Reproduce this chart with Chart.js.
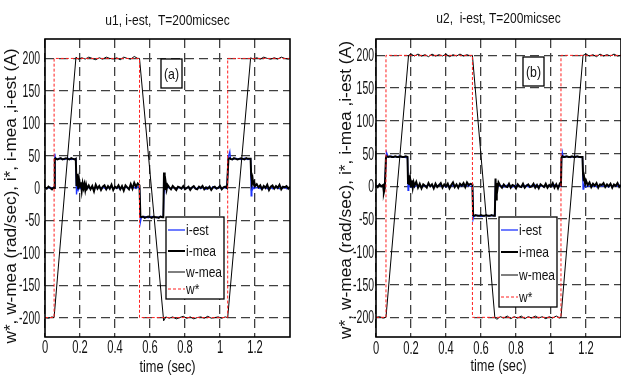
<!DOCTYPE html>
<html><head><meta charset="utf-8">
<script src="https://cdn.jsdelivr.net/npm/chart.js@4.4.1/dist/chart.umd.min.js"></script>
<style>
html,body{margin:0;padding:0;background:#fff;}
#wrap{position:relative;width:621px;height:376px;overflow:hidden;background:#fff;}
.box{position:absolute;top:0;height:376px;}
canvas{display:block;}
</style></head><body>
<div id="wrap">
<div class="box" style="left:0;width:310px"><canvas id="ca" width="310" height="376"></canvas></div>
<div class="box" style="left:310px;width:311px"><canvas id="cb" width="311" height="376"></canvas></div>
</div>
<script>
// ---------- text / tick labels ----------
const xTickLabels = [0, 0.2, 0.4, 0.6, 0.8, 1, 1.2];
const yTickLabels = [-200, -150, -100, -50, 0, 50, 100, 150, 200];
const seriesNames = ['i-est', 'i-mea', 'w-mea', 'w*'];
const titleA = 'u1, i-est,  T=200micsec';
const titleB = 'u2,  i-est, T=200micsec';
const xTitle = 'time (sec)';
const yTitle = 'w*, w-mea (rad/sec), i*, i-mea ,i-est (A)';
const tagA = '(a)';
const tagB = '(b)';

// ---------- panel (a) data ----------
const tRefA = [0, 0.052, 0.052, 0.54, 0.54, 1.044, 1.044, 1.4];
const wRefA = [-200, -200, 200, 200, -200, -200, 200, 200];

const tSpdA = [0, 0.02, 0.04, 0.052, 0.177, 0.19, 0.21, 0.23, 0.25, 0.27, 0.29, 0.31, 0.33, 0.35, 0.37, 0.39, 0.41, 0.43, 0.45, 0.47, 0.49, 0.51, 0.53, 0.54,
  0.678, 0.69, 0.71, 0.73, 0.75, 0.77, 0.79, 0.81, 0.83, 0.85, 0.87, 0.89, 0.91, 0.93, 0.95, 0.97, 0.99, 1.01, 1.03, 1.044,
  1.175, 1.19, 1.21, 1.23, 1.25, 1.27, 1.29, 1.31, 1.33, 1.35, 1.37, 1.39, 1.4];
const wSpdA = [-200, -201, -199, -200, 202, 199, 201, 199, 202, 200, 198, 201, 199, 202, 200, 199, 201, 198, 202, 200, 199, 203, 200, 200,
  -205, -199, -201, -199, -202, -200, -198, -201, -199, -202, -200, -199, -201, -198, -201, -200, -199, -201, -199, -200,
  201, 199, 201, 199, 202, 200, 199, 201, 199, 202, 200, 199, 200];

const tCurA = [0, 0.01, 0.02, 0.03, 0.04, 0.05, 0.052, 0.056,
  0.06, 0.07, 0.08, 0.09, 0.10, 0.11, 0.12, 0.13, 0.14, 0.15, 0.16, 0.17, 0.176,
  0.18, 0.185, 0.19, 0.195, 0.20, 0.205, 0.21, 0.215, 0.22, 0.225, 0.23, 0.235, 0.24,
  0.25, 0.26, 0.27, 0.28, 0.29, 0.30, 0.31, 0.32, 0.33, 0.34, 0.35, 0.36, 0.37, 0.38, 0.39, 0.40, 0.41, 0.42, 0.43, 0.44, 0.45, 0.46, 0.47, 0.48, 0.49, 0.50, 0.51, 0.52, 0.53,
  0.54, 0.545,
  0.55, 0.56, 0.57, 0.58, 0.59, 0.60, 0.61, 0.62, 0.63, 0.64, 0.65, 0.66, 0.67, 0.676,
  0.68, 0.684, 0.69, 0.695, 0.70,
  0.71, 0.72, 0.73, 0.74, 0.75, 0.76, 0.77, 0.78, 0.79, 0.80, 0.81, 0.82, 0.83, 0.84, 0.85, 0.86, 0.87, 0.88, 0.89, 0.90, 0.91, 0.92, 0.93, 0.94, 0.95, 0.96, 0.97, 0.98, 0.99, 1.00, 1.01, 1.02, 1.03, 1.04,
  1.044, 1.048, 1.056,
  1.06, 1.07, 1.08, 1.09, 1.10, 1.11, 1.12, 1.13, 1.14, 1.15, 1.16, 1.17, 1.175,
  1.178, 1.182, 1.186, 1.19, 1.195, 1.20,
  1.21, 1.22, 1.23, 1.24, 1.25, 1.26, 1.27, 1.28, 1.29, 1.30, 1.31, 1.32, 1.33, 1.34, 1.35, 1.36, 1.37, 1.38, 1.39, 1.40];
const iMeaA = [1, -1, 2, 0, -2, 1, 0, 45,
  46, 44, 45, 46, 44, 45, 46, 45, 44, 46, 45, 44, 45,
  3, 22, -2, 12, 2, 9, -4, 7, 0, 6, -3, 5, -1,
  4, -2, 3, -5, 5, -1, 3, -3, 2, 4, -2, 3, -1, 5, -3, 2, 0, 4, -2, 3, -4, 4, 1, -2, 6, -1, 8, 2, 7,
  4, -44,
  -45, -44, -46, -45, -44, -45, -46, -44, -45, -45, -46, -44, -45, -45,
  24, -3, 8, -2, 5,
  1, -2, 3, 0, -3, 2, 1, -1, 3, -2, 0, 2, -3, 1, 3, -1, -2, 2, 0, 3, -2, 1, -1, 2, -3, 1, 2, -1, 0, 3, -2, 1, 2, 0,
  0, 45, 46,
  45, 44, 46, 45, 44, 45, 46, 45, 44, 46, 45, 45, 45,
  20, 10, 15, 6, 9, 3,
  6, 1, 4, -2, 3, 0, 5, -3, 2, 4, -1, 3, 0, 5, -2, 2, 1, 3, -1, 2];
const iEstA = [0, -1, 0, 1, -1, 0, 0, 53,
  45, 44, 46, 45, 45, 44, 45, 46, 45, 44, 45, 45, 45,
  -10, 1, -3, 2, -1, 1, -2, 1, 0, 2, -1, 1, 0,
  1, -1, 2, -2, 1, 0, 2, -1, 1, 0, -2, 1, 0, 2, -1, 1, 0, 1, -2, 1, -1, 2, 0, -1, 2, 0, 1, -1, 2,
  0, -53,
  -46, -45, -44, -45, -46, -45, -44, -45, -45, -46, -45, -44, -45, -45,
  4, -1, 2, 0, 1,
  0, -1, 1, 0, -2, 1, 0, -1, 2, -1, 0, 1, -1, 0, 2, -1, 0, 1, -1, 1, 0, -2, 1, 0, -1, 2, 0, -1, 1, 0, -1, 1, 0, 0,
  0, 48, 56,
  45, 44, 45, 46, 45, 45, 44, 45, 46, 45, 44, 45, 45,
  -12, 2, -2, 1, -1, 0,
  1, 0, -1, 1, 0, 2, -1, 0, 1, -1, 0, 1, 0, -1, 1, 0, 1, -1, 0, 1];

// ---------- panel (b) data ----------
const tRefB = [0, 0.057, 0.057, 0.551, 0.551, 1.057, 1.057, 1.4];
const wRefB = [-200, -200, 200, 200, -200, -200, 200, 200];

const tSpdB = [0, 0.02, 0.04, 0.057, 0.186, 0.20, 0.22, 0.24, 0.26, 0.28, 0.30, 0.32, 0.34, 0.36, 0.38, 0.40, 0.42, 0.44, 0.46, 0.48, 0.50, 0.52, 0.54, 0.551,
  0.679, 0.69, 0.71, 0.73, 0.75, 0.77, 0.79, 0.81, 0.83, 0.85, 0.87, 0.89, 0.91, 0.93, 0.95, 0.97, 0.99, 1.01, 1.03, 1.05, 1.057,
  1.183, 1.20, 1.22, 1.24, 1.26, 1.28, 1.30, 1.32, 1.34, 1.36, 1.38, 1.4];
const wSpdB = [-200, -199, -201, -200, 200, 202, 199, 202, 199, 201, 198, 202, 199, 201, 199, 202, 198, 201, 199, 202, 199, 201, 199, 200,
  -200, -203, -199, -201, -198, -202, -199, -201, -198, -202, -199, -201, -198, -201, -199, -202, -199, -201, -198, -201, -200,
  200, 202, 199, 201, 198, 202, 199, 201, 199, 202, 199, 200];

const tCurB = [0, 0.01, 0.02, 0.03, 0.04, 0.045, 0.05, 0.057, 0.06,
  0.07, 0.08, 0.09, 0.10, 0.11, 0.12, 0.13, 0.14, 0.15, 0.16, 0.17, 0.18,
  0.183, 0.187, 0.19, 0.195, 0.20, 0.205, 0.21, 0.215, 0.22,
  0.23, 0.24, 0.25, 0.26, 0.27, 0.28, 0.29, 0.30, 0.31, 0.32, 0.33, 0.34, 0.35, 0.36, 0.37, 0.38, 0.39, 0.40, 0.41, 0.42, 0.43, 0.44, 0.45, 0.46, 0.47, 0.48, 0.49, 0.50, 0.51, 0.52, 0.53, 0.54,
  0.551, 0.555,
  0.56, 0.57, 0.58, 0.59, 0.60, 0.61, 0.62, 0.63, 0.64, 0.65, 0.66, 0.67, 0.679,
  0.683, 0.687, 0.69, 0.695, 0.70,
  0.71, 0.72, 0.73, 0.74, 0.75, 0.76, 0.77, 0.78, 0.79, 0.80, 0.81, 0.82, 0.83, 0.84, 0.85, 0.86, 0.87, 0.88, 0.89, 0.90, 0.91, 0.92, 0.93, 0.94, 0.95, 0.96, 0.97, 0.98, 0.99, 1.00, 1.01, 1.02, 1.03, 1.04, 1.05,
  1.057, 1.06, 1.065,
  1.07, 1.08, 1.09, 1.10, 1.11, 1.12, 1.13, 1.14, 1.15, 1.16, 1.17, 1.18,
  1.183, 1.187, 1.19, 1.195, 1.20,
  1.21, 1.22, 1.23, 1.24, 1.25, 1.26, 1.27, 1.28, 1.29, 1.30, 1.31, 1.32, 1.33, 1.34, 1.35, 1.36, 1.37, 1.38, 1.39, 1.40];
const iMeaB = [2, -1, 3, 0, 2, -9, -3, 44, 46,
  45, 46, 45, 45, 46, 45, 45, 46, 45, 45, 46, 45,
  5, 17, 2, 12, 0, 9, -2, 6, 1,
  7, -2, 4, -3, 3, 1, -2, 5, 0, 3, -3, 4, -1, 2, 5, -2, 3, 0, 4, -3, 2, 6, -1, 3, -2, 4, 1, 5, -1, 6, 2, 4,
  3, -44,
  -45, -44, -45, -45, -44, -45, -45, -44, -45, -45, -44, -45, -45,
  12, -20, 5, -3, 6,
  1, -2, 3, 0, -1, 4, -2, 2, 1, -3, 3, 0, -1, 4, -2, 1, 3, -1, 0, 4, -2, 2, -3, 3, 1, -1, 4, -2, 2, 0, 5, -2, 3, -3, 4,
  2, 44, 46,
  45, 45, 46, 45, 45, 46, 45, 45, 46, 45, 45, 45,
  19, 8, 13, 4, 9,
  2, 6, -1, 4, 1, 5, -2, 3, 2, 5, -1, 3, 0, 4, -2, 3, 1, 5, -1, 2];
const iEstB = [1, 0, 2, 0, 1, -3, -1, 40, 52,
  45, 45, 46, 45, 45, 45, 46, 45, 45, 45, 44, 44,
  -6, 3, 0, 2, -1, 1, 0, 1, -1,
  1, 0, 2, -1, 1, 0, 1, 2, 0, 1, -1, 1, 0, 2, 1, 0, 1, -1, 2, 0, 1, 1, 0, 2, -1, 1, 0, 2, 0, 1, 1, 0,
  0, -50,
  -45, -45, -44, -45, -46, -45, -45, -44, -45, -45, -45, -44, -45,
  3, -2, 2, 0, 1,
  0, 1, -1, 0, 2, 0, 1, -1, 0, 1, 2, 0, -1, 1, 0, 2, -1, 0, 1, 0, 2, -1, 1, 0, 1, -1, 2, 0, 1, 0, 1, 2, 0, 1, 0,
  0, 40, 52,
  45, 46, 45, 45, 44, 45, 45, 46, 45, 45, 44, 45,
  -4, 2, 0, 1, -1,
  1, 0, 2, 0, 1, -1, 1, 2, 0, 1, 0, 1, -1, 2, 0, 1, 1, 0, 2, 1];

// ---------- layout (positions/styles only) ----------
const FONT = '"Liberation Sans", Arial, Helvetica, sans-serif';
const layoutA = {pad: {left: 45, top: 39, right: 20, bottom: 39}, yMin: -230, yMax: 230,
  titleY: 21, xTickY: 348, xTitleY: 368, yTitleX: 12, yTitleY: 196, yTitleLen: 295, yTickGap: 5,
  tag: {x: 161, y: 59, w: 21, h: 29},
  legend: {x: 166, y: 217, w: 58, h: 82, rows: [230, 251, 272, 289]}};
const layoutB = {pad: {left: 66, top: 39, right: 0, bottom: 39}, yMin: -230, yMax: 225,
  titleY: 19, xTickY: 349, xTitleY: 367, yTitleX: 37, yTitleY: 190, yTitleLen: 298, yTickGap: 2,
  tag: {x: 213, y: 57, w: 21, h: 29},
  legend: {x: 189, y: 217, w: 58, h: 90, rows: [230, 252, 275, 297]}};

function sqText(ctx, text, x, y, size, sx, align, baseline) {
  ctx.save();
  ctx.font = size + 'px ' + FONT;
  ctx.fillStyle = '#111';
  ctx.textAlign = align; ctx.textBaseline = baseline;
  ctx.translate(x, y); ctx.scale(sx, 1);
  ctx.fillText(text, 0, 0);
  ctx.restore();
}

function makeDeco(L, title, tag) {
  return {
    id: 'deco',
    afterDraw(chart) {
      const ctx = chart.ctx, a = chart.chartArea;
      const xs = chart.scales.x, ys = chart.scales.y;
      // legend box
      const lg = L.legend;
      ctx.save();
      ctx.fillStyle = '#fff'; ctx.fillRect(lg.x, lg.y, lg.w, lg.h);
      ctx.strokeStyle = '#000'; ctx.lineWidth = 1.3; ctx.strokeRect(lg.x, lg.y, lg.w, lg.h);
      chart.data.datasets.forEach((ds, i) => {
        const yy = lg.rows[i];
        ctx.save();
        ctx.strokeStyle = ds.borderColor; ctx.lineWidth = ds.borderWidth;
        ctx.setLineDash(ds.borderDash || []);
        ctx.beginPath(); ctx.moveTo(lg.x + 2, yy); ctx.lineTo(lg.x + 19, yy); ctx.stroke();
        ctx.restore();
        sqText(ctx, ds.label, lg.x + 20, yy + 1, 15, 0.8, 'left', 'middle');
      });
      // tag box
      const tg = L.tag;
      ctx.fillStyle = '#fff'; ctx.fillRect(tg.x, tg.y, tg.w, tg.h);
      ctx.strokeStyle = '#000'; ctx.lineWidth = 1.3; ctx.strokeRect(tg.x, tg.y, tg.w, tg.h);
      sqText(ctx, tag, tg.x + tg.w / 2, tg.y + tg.h / 2 + 1, 15, 0.82, 'center', 'middle');
      // frame
      ctx.strokeStyle = '#000'; ctx.lineWidth = 1.6;
      ctx.strokeRect(a.left, a.top, a.right - a.left, a.bottom - a.top);
      ctx.restore();
      // tick labels from the library's scales
      ys.ticks.forEach(t => {
        sqText(ctx, String(t.value), a.left - L.yTickGap, ys.getPixelForValue(t.value) + 1, 18, 0.58, 'right', 'middle');
      });
      xs.ticks.forEach(t => {
        sqText(ctx, String(t.value), xs.getPixelForValue(t.value), L.xTickY, 18, 0.62, 'center', 'middle');
      });
      const cx = (a.left + a.right) / 2;
      sqText(ctx, title, cx, L.titleY, 15, 0.8, 'center', 'middle');
      sqText(ctx, xTitle, cx, L.xTitleY, 16, 0.8, 'center', 'middle');
      // rotated y title, fitted to its length
      ctx.save();
      ctx.font = '16px ' + FONT;
      ctx.fillStyle = '#111';
      ctx.translate(L.yTitleX, L.yTitleY);
      ctx.rotate(-Math.PI / 2);
      const w = ctx.measureText(yTitle).width;
      ctx.scale(L.yTitleLen / w, 1);
      ctx.textAlign = 'center'; ctx.textBaseline = 'middle';
      ctx.fillText(yTitle, 0, 0);
      ctx.restore();
    }
  };
}

function makeChart(id, L, tRef, wRef, tSpd, wSpd, tCur, iMea, iEst, title, tag) {
  const pts = (t, v) => t.map((x, i) => ({x: x, y: v[i]}));
  const datasets = [
    {label: seriesNames[0], data: pts(tCur, iEst), borderColor: '#1f35ff', borderWidth: 1.3, order: 4},
    {label: seriesNames[1], data: pts(tCur, iMea), borderColor: '#000000', borderWidth: 2, order: 3},
    {label: seriesNames[2], data: pts(tSpd, wSpd), borderColor: '#000000', borderWidth: 1, order: 2},
    {label: seriesNames[3], data: pts(tRef, wRef), borderColor: '#ff1f1f', borderWidth: 1, borderDash: [3, 2], order: 1}
  ];
  datasets.forEach(d => { d.pointRadius = 0; d.tension = 0; d.fill = false; });
  return new Chart(document.getElementById(id), {
    type: 'line',
    data: {datasets: datasets},
    options: {
      responsive: false, animation: false, devicePixelRatio: 1,
      layout: {padding: L.pad},
      plugins: {legend: {display: false}, tooltip: {enabled: false}, title: {display: false}},
      scales: {
        x: {type: 'linear', min: 0, max: 1.4,
          afterBuildTicks: s => { s.ticks = xTickLabels.map(v => ({value: v})); },
          afterFit: s => { s.height = 0; },
          ticks: {display: false},
          grid: {color: '#404040', lineWidth: 1.3, drawTicks: false},
          border: {display: false, dash: [9, 5]}},
        y: {type: 'linear', min: L.yMin, max: L.yMax,
          afterBuildTicks: s => { s.ticks = yTickLabels.map(v => ({value: v})); },
          afterFit: s => { s.width = 0; },
          ticks: {display: false},
          grid: {color: '#404040', lineWidth: 1.3, drawTicks: false},
          border: {display: false, dash: [9, 5]}}
      }
    },
    plugins: [makeDeco(L, title, tag)]
  });
}

makeChart('ca', layoutA, tRefA, wRefA, tSpdA, wSpdA, tCurA, iMeaA, iEstA, titleA, tagA);
makeChart('cb', layoutB, tRefB, wRefB, tSpdB, wSpdB, tCurB, iMeaB, iEstB, titleB, tagB);
</script>
</body></html>
